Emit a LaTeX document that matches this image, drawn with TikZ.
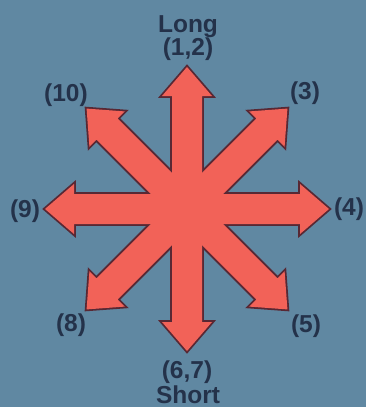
\documentclass[tikz,border=0pt]{standalone}
\usepackage{fontspec}
\setmainfont{Liberation Sans}
\definecolor{bgblue}{RGB}{96,136,162}
\definecolor{arrowred}{RGB}{242,98,88}
\definecolor{rimdark}{RGB}{88,40,52}
\definecolor{labelink}{RGB}{36,50,74}
\begin{document}
\begin{tikzpicture}[x=1pt, y=-1pt,
  lbl/.style={font=\bfseries\fontsize{24.5}{24.5}\selectfont, text=labelink, inner sep=0pt}]
  \fill[bgblue] (0,0) rectangle (366,407);
  \useasboundingbox (0,0) rectangle (366,407);
  % eight block arrows from the centre (187,209): outline first, then the fill over it
  \foreach \a in {0,45,...,315}
    \draw[rimdark, line width=3.6pt, line join=miter, shift={(187,209)}, rotate=\a]
      (0,-15) -- (113,-15) -- (113,-25) -- (142,0) -- (113,25) -- (113,15) -- (0,15);
  \foreach \a in {0,45,...,315}
    \fill[arrowred, shift={(187,209)}, rotate=\a]
      (0,-15) -- (113,-15) -- (113,-25) -- (142,0) -- (113,25) -- (113,15) -- (0,15) -- cycle;
  \node[lbl, anchor=base] (long) at (188,32) {Long};
  \node[lbl] (l12) at (188,49) {(1,2)};
  \node[lbl] (l3) at (305,93) {(3)};
  \node[lbl] (l4) at (349,209) {(4)};
  \node[lbl] (l5) at (306,326) {(5)};
  \node[lbl] (l67) at (187,372) {(6,7)};
  \node[lbl, anchor=base] (short) at (188,403) {Short};
  \node[lbl] (l8) at (71,325) {(8)};
  \node[lbl] (l9) at (25,211) {(9)};
  \node[lbl] (l10) at (66,95) {(10)};
\end{tikzpicture}
\end{document}
